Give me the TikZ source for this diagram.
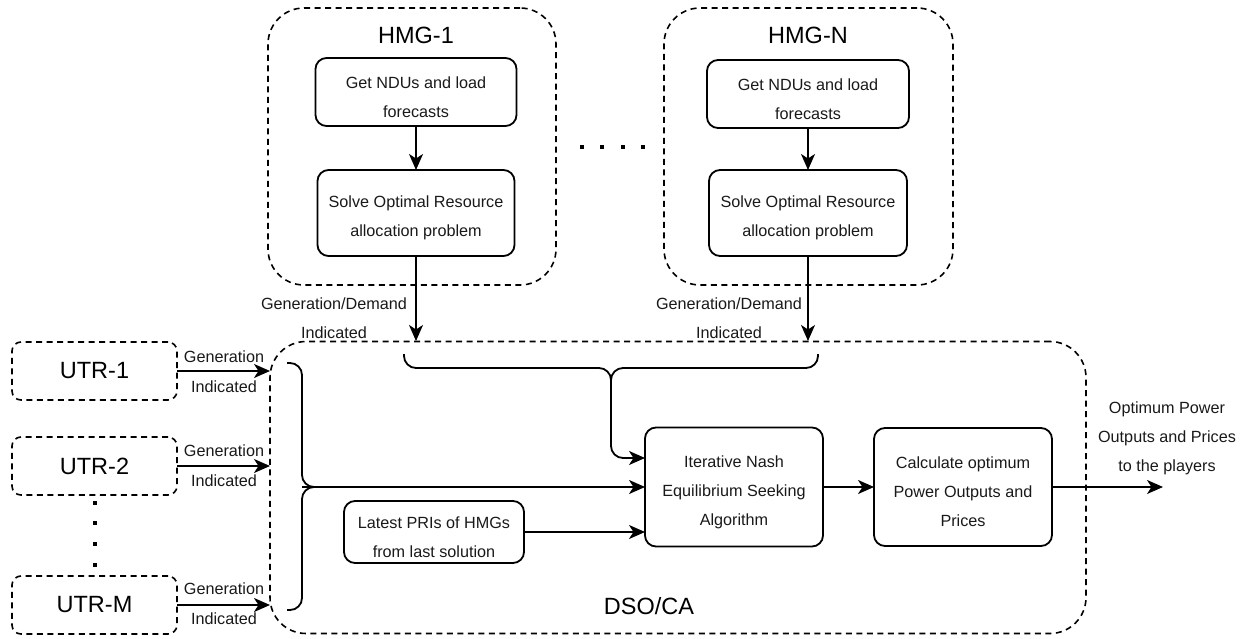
\documentclass[tikz,border=0pt]{standalone}
\usepackage{fontspec}
\setmainfont{Liberation Sans}
\usetikzlibrary{arrows.meta,calc}
\begin{document}
\begin{tikzpicture}[x=1pt,y=-1pt,
  every node/.style={inner sep=0pt,outer sep=0pt},
  txt/.style={font=\fontsize{16.2}{29}\selectfont,align=center,text=black!90},
  big/.style={font=\fontsize{23.5}{28}\selectfont},
  procbox/.style={draw,line width=1.8pt,rounded corners=11pt},
  dashbox/.style={draw,line width=1.6pt,dash pattern=on 6pt off 4.5pt},
  utrbox/.style={dashbox,rounded corners=9pt,minimum width=165pt,minimum height=58pt,big},
  conn/.style={line width=1.8pt,-{Stealth[length=16pt,width=14pt,inset=4.5pt]}},
  brace/.style={line width=1.8pt,rounded corners=12pt},
  dot/.style={fill=black}
]
\useasboundingbox (0,0) rectangle (1247,639);

% HMG containers
\node[dashbox,rounded corners=36pt,minimum width=288pt,minimum height=277pt] (hmg1) at (412,146.5) {};
\node[dashbox,rounded corners=36pt,minimum width=289pt,minimum height=277pt] (hmgN) at (808.5,146.5) {};
\node[big] (hmg1t) at (416,35) {HMG-1};
\node[big] (hmgNt) at (808,35) {HMG-N};

\node[procbox,minimum width=201pt,minimum height=68pt] (get1) at (416,92) {};
\node[txt] (get1t) at ([yshift=-5pt]get1.center) {Get NDUs and load\\forecasts};
\node[procbox,minimum width=197pt,minimum height=86pt] (sol1) at (416,213) {};
\node[txt] (sol1t) at ([yshift=-5pt]sol1.center) {Solve Optimal Resource\\allocation problem};
\node[procbox,minimum width=202pt,minimum height=68pt] (getN) at (808,94) {};
\node[txt] (getNt) at ([yshift=-5pt]getN.center) {Get NDUs and load\\forecasts};
\node[procbox,minimum width=198pt,minimum height=86pt] (solN) at (808,213) {};
\node[txt] (solNt) at ([yshift=-5pt]solN.center) {Solve Optimal Resource\\allocation problem};
\draw[conn] (get1) -- (sol1);
\draw[conn] (getN) -- (solN);

% dots between HMGs
\foreach \x in {582,602,623,643} \fill[dot] (\x-2,145) rectangle (\x+2,149);

% DSO container
\node[dashbox,rounded corners=36pt,minimum width=816pt,minimum height=292pt] (dso) at (678,487.5) {};
\node[big] (dsot) at (649,606) {DSO/CA};

\coordinate (in1) at (416,341);
\coordinate (inN) at (808,341);
\draw[conn] (sol1.south) -- (in1);
\draw[conn] (solN.south) -- (inN);
\node[txt] (gd1) at (334,318) {Generation/Demand\\Indicated};
\node[txt] (gdN) at (729,318) {Generation/Demand\\Indicated};

% inner process nodes
\node[procbox,minimum width=178pt,minimum height=119pt] (nash) at (734,487) {};
\node[txt] (nasht) at ([yshift=-5pt]nash.center) {Iterative Nash\\Equilibrium Seeking\\Algorithm};
\node[procbox,minimum width=178pt,minimum height=118pt] (calc) at (963,487) {};
\node[txt] (calct) at ([yshift=-5pt]calc.center) {Calculate optimum\\Power Outputs and\\Prices};
\node[procbox,minimum width=180pt,minimum height=62pt] (pri) at (434,532) {};
\node[txt] (prit) at ([yshift=-5pt]pri.center) {Latest PRIs of HMGs\\from last solution};
\coordinate (out) at (1163,487);
\node[txt] (outl) at (1167,438) {Optimum Power\\Outputs and Prices\\to the players};

\draw[conn] (pri.east) -- ([yshift=-45pt]nash.west);
\draw[conn] (nash) -- (calc);
\draw[conn] (calc.east) -- (out);

% top brace
\coordinate (tbl) at (404,354);
\coordinate (tbr) at (818,354);
\draw[brace] (tbr) -- (818,368) -- (611,368) -- (611,395);
\draw[brace,-{Stealth[length=16pt,width=14pt,inset=4.5pt]}] (tbl) -- (404,368) -- (611,368) -- (611,458) -- ([yshift=29pt]nash.west);

% UTRs
\node[utrbox] (utr1) at (94.5,371) {UTR-1};
\node[utrbox] (utr2) at (94.5,466) {UTR-2};
\node[utrbox] (utrM) at (94.5,605) {UTR-M};
\foreach \y in {503,523,544,565} \fill[dot] (93,\y-2) rectangle (97,\y+2);
\coordinate (u1) at (270,371);
\coordinate (u2) at (270,466);
\coordinate (uM) at (270,605);
\draw[conn] (utr1.east) -- (u1);
\draw[conn] (utr2.east) -- (u2);
\draw[conn] (utrM.east) -- (uM);
\node[txt,font=\fontsize{16.2}{30}\selectfont] (g1) at (224,372) {Generation\\Indicated};
\node[txt,font=\fontsize{16.2}{30}\selectfont] (g2) at (224,466) {Generation\\Indicated};
\node[txt,font=\fontsize{16.2}{30}\selectfont] (gM) at (224,604) {Generation\\Indicated};

% left brace
\coordinate (lbt) at (287,363);
\coordinate (lbb) at (287,610);
\draw[brace] (lbt) -- (302,363) -- (302,487) -- (315,487);
\draw[brace] (lbb) -- (302,610) -- (302,487) -- (315,487);
\draw[conn] (302,487) -- (nash.west);
\end{tikzpicture}
\end{document}
